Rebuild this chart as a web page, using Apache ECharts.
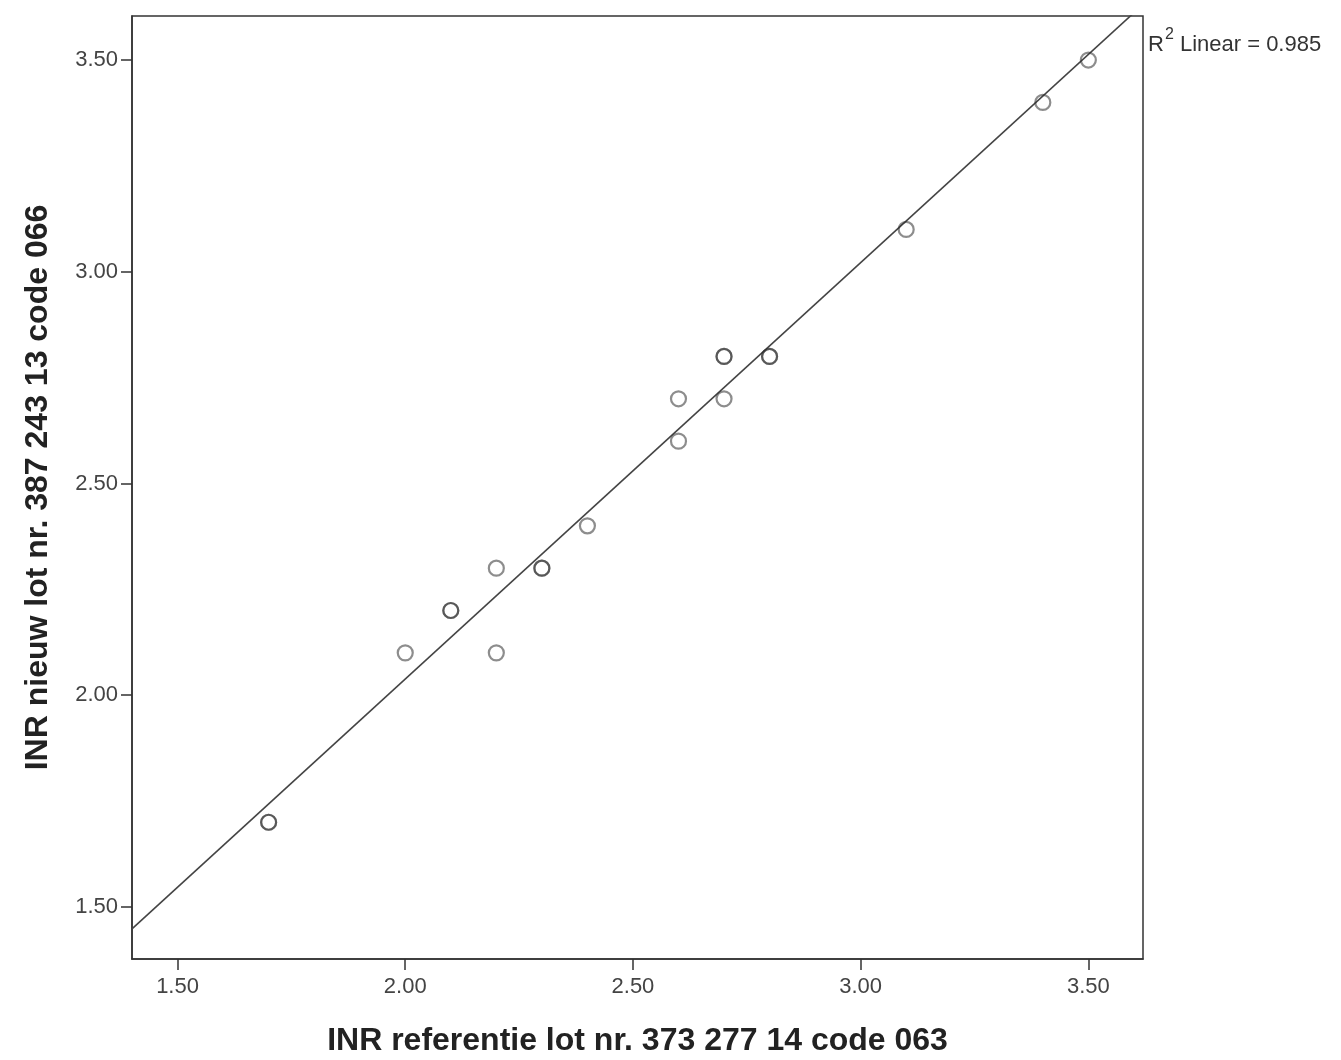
<!DOCTYPE html>
<html>
<head>
<meta charset="utf-8">
<script src="https://cdn.jsdelivr.net/npm/echarts@6/dist/echarts.min.js"></script>
<style>
html,body{margin:0;padding:0;background:#fff;}
#c{width:1341px;height:1060px;}
</style>
</head>
<body>
<div id="c"></div>
<script>
// INR reference lot (x) vs new lot (y); duplicated pairs appear as darker circles
const xValues = [1.70, 1.70, 2.00, 2.10, 2.10, 2.20, 2.20, 2.30, 2.30, 2.40, 2.60, 2.60, 2.70, 2.70, 2.70, 2.80, 2.80, 3.10, 3.40, 3.50];
const yValues = [1.70, 1.70, 2.10, 2.20, 2.20, 2.30, 2.10, 2.30, 2.30, 2.40, 2.70, 2.60, 2.80, 2.80, 2.70, 2.80, 2.80, 3.10, 3.40, 3.50];
const tickValues = [1.50, 2.00, 2.50, 3.00, 3.50];
const xRange = [1.40, 3.62];
const yRange = [1.377, 3.604];
const xTitle = 'INR referentie lot nr. 373 277 14 code 063';
const yTitle = 'INR nieuw lot nr. 387 243 13 code 066';
const fitLabelParts = ['R', '2', ' Linear = 0.985'];

const points = xValues.map((x, i) => [x, yValues[i]]);
// least-squares fit line
const n = points.length;
const mx = xValues.reduce((a, b) => a + b, 0) / n;
const my = yValues.reduce((a, b) => a + b, 0) / n;
let sxy = 0, sxx = 0;
points.forEach(([x, y]) => { sxy += (x - mx) * (y - my); sxx += (x - mx) * (x - mx); });
const slope = sxy / sxx;
const intercept = my - slope * mx;
const fitLine = [[xRange[0], intercept + slope * xRange[0]], [xRange[1], intercept + slope * xRange[1]]];

const FONT = 'Liberation Sans, Arial, sans-serif';
const chart = echarts.init(document.getElementById('c'), null, {renderer: 'canvas'});
const axisCommon = {
  type: 'value',
  nameLocation: 'middle',
  nameTextStyle: {fontFamily: FONT, fontWeight: 'bold', fontSize: 32, color: '#222'},
  axisLine: {show: true, lineStyle: {color: '#333', width: 1.5}},
  axisTick: {show: true, length: 11, customValues: tickValues, lineStyle: {color: '#333', width: 1.5}},
  axisLabel: {customValues: tickValues, formatter: v => v.toFixed(2), fontFamily: FONT, fontSize: 22, color: '#444'},
  splitLine: {show: false}
};
chart.setOption({
  backgroundColor: '#fff',
  animation: false,
  grid: {left: 132, top: 16, width: 1011, height: 943, outerBoundsMode: 'none', containLabel: false,
    show: true, borderColor: '#333', borderWidth: 1.5, backgroundColor: 'transparent'},
  xAxis: Object.assign({}, axisCommon, {min: xRange[0], max: xRange[1], name: xTitle, nameGap: 66,
    axisLabel: Object.assign({}, axisCommon.axisLabel, {margin: 17})}),
  yAxis: Object.assign({}, axisCommon, {min: yRange[0], max: yRange[1], name: yTitle, nameGap: 78, nameRotate: 90,
    axisLabel: Object.assign({}, axisCommon.axisLabel, {margin: 14})}),
  graphic: [{
    type: 'text', left: 1148, top: 27,
    style: {
      text: '{a|' + fitLabelParts[0] + '}{s|' + fitLabelParts[1] + '}{a|' + fitLabelParts[2] + '}',
      rich: {
        a: {fontFamily: FONT, fontSize: 22, fill: '#333', color: '#333', verticalAlign: 'bottom', lineHeight: 29},
        s: {fontFamily: FONT, fontSize: 16, fill: '#333', color: '#333', verticalAlign: 'top', lineHeight: 29, padding: [0, 0, 0, 1]}
      }
    }
  }],
  series: [
    {type: 'line', data: fitLine, symbol: 'none', clip: true, lineStyle: {color: '#444', width: 1.6}, z: 1},
    {type: 'scatter', data: points, symbol: 'circle', symbolSize: 15,
     itemStyle: {color: 'rgba(255,255,255,0)', borderColor: 'rgba(45,45,45,0.68)', borderWidth: 2.2}, z: 2}
  ]
});
</script>
</body>
</html>
